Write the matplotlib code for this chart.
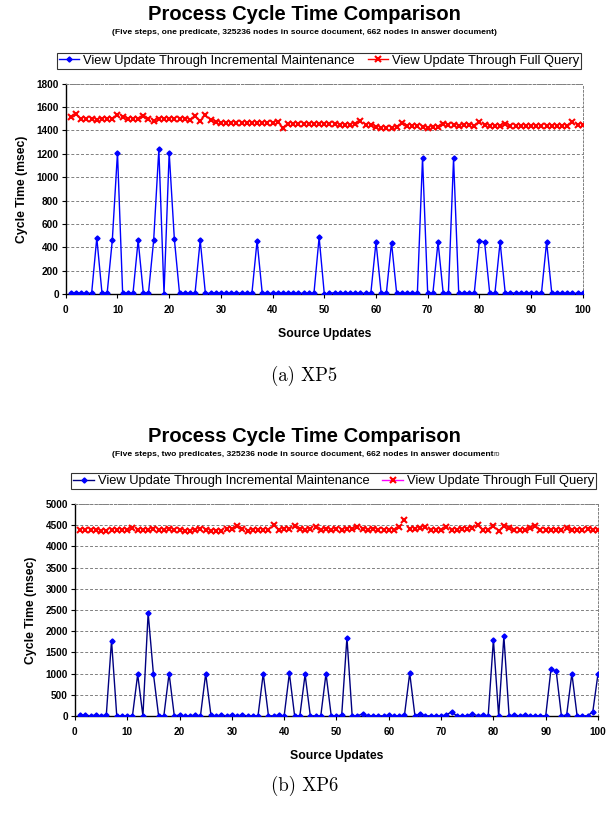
import matplotlib
matplotlib.use('Agg')
import matplotlib.pyplot as plt
from matplotlib.lines import Line2D
import numpy as np

plt.rcParams['font.family'] = ['Liberation Sans', 'DejaVu Sans']

updates = list(range(1, 101))

# XP5 (top)
xp5_incremental = [
    10, 12, 5, 5, 5, 480, 10, 5, 460, 1210,
    5, 5, 5, 460, 5, 10, 460, 1240, 0, 1210,
    470, 5, 5, 5, 5, 460, 5, 5, 10, 5,
    5, 5, 10, 5, 5, 5, 455, 5, 5, 5,
    5, 5, 5, 5, 5, 5, 5, 5, 485, 0,
    5, 10, 5, 5, 5, 5, 5, 5, 5, 445,
    5, 5, 440, 5, 5, 5, 5, 5, 1165, 5,
    5, 445, 5, 5, 1160, 5, 5, 10, 5, 455,
    445, 5, 5, 445, 5, 10, 5, 5, 5, 5,
    5, 5, 445, 5, 5, 5, 5, 5, 5, 5,
]
xp5_full = [
    1514, 1543, 1500, 1500, 1495, 1490, 1500, 1500, 1495, 1534,
    1514, 1495, 1495, 1495, 1523, 1495, 1477, 1500, 1500, 1500,
    1500, 1495, 1495, 1490, 1520, 1480, 1530, 1486, 1472, 1463,
    1463, 1463, 1465, 1463, 1463, 1460, 1460, 1460, 1463, 1465,
    1472, 1423, 1451, 1455, 1455, 1451, 1455, 1451, 1451, 1457,
    1455, 1451, 1445, 1445, 1445, 1451, 1477, 1443, 1443, 1433,
    1425, 1423, 1425, 1430, 1463, 1437, 1437, 1437, 1430, 1423,
    1430, 1430, 1457, 1443, 1443, 1440, 1443, 1443, 1440, 1472,
    1443, 1440, 1440, 1440, 1451, 1437, 1437, 1440, 1437, 1437,
    1440, 1437, 1440, 1437, 1437, 1440, 1437, 1472, 1443, 1443,
]

# XP6 (bottom)
xp6_incremental = [
    20, 20, 0, 20, 0, 20, 1780, 0, 0, 0,
    0, 980, 0, 2430, 1000, 0, 0, 1000, 0, 20,
    0, 0, 20, 0, 1000, 20, 0, 20, 0, 20,
    0, 20, 0, 0, 0, 1000, 0, 0, 20, 0,
    1010, 0, 0, 980, 0, 0, 0, 1000, 0, 0,
    20, 1850, 0, 0, 50, 0, 0, 0, 0, 20,
    0, 0, 20, 1010, 0, 50, 0, 0, 0, 0,
    20, 100, 0, 0, 0, 50, 0, 20, 0, 1800,
    0, 1880, 0, 20, 0, 20, 0, 0, 0, 0,
    1100, 1060, 0, 20, 1000, 0, 0, 0, 100, 1000,
]
xp6_full = [
    4380, 4380, 4390, 4380, 4360, 4360, 4390, 4380, 4380, 4390,
    4440, 4390, 4400, 4380, 4420, 4390, 4400, 4410, 4400, 4390,
    4370, 4360, 4400, 4410, 4390, 4370, 4370, 4360, 4410, 4420,
    4490, 4420, 4370, 4400, 4380, 4380, 4400, 4510, 4380, 4410,
    4420, 4480, 4420, 4400, 4420, 4450, 4400, 4410, 4390, 4420,
    4390, 4410, 4410, 4460, 4410, 4380, 4410, 4380, 4400, 4380,
    4390, 4460, 4620, 4420, 4420, 4440, 4470, 4400, 4380, 4390,
    4460, 4400, 4380, 4420, 4410, 4440, 4500, 4400, 4380, 4480,
    4370, 4480, 4440, 4390, 4390, 4390, 4430, 4490, 4400, 4400,
    4380, 4380, 4380, 4430, 4390, 4400, 4380, 4410, 4400, 4390,
]

label_inc = 'View Update Through Incremental Maintenance'
label_full = 'View Update Through Full Query'

fig = plt.figure(figsize=(6.09, 8.21), dpi=100)
fig.patch.set_facecolor('white')


def style_axes(ax, ymax, ystep):
    ax.set_xlim(0, 100)
    ax.set_ylim(0, ymax)
    ax.set_xticks(range(0, 101, 10))
    ax.set_yticks(np.arange(0, ymax + 1, ystep))
    ax.yaxis.grid(True, linestyle=(0, (3, 2)), color='#808080', linewidth=0.7)
    ax.set_axisbelow(True)
    for side in ['top', 'right']:
        ax.spines[side].set_linestyle((0, (2, 2)))
        ax.spines[side].set_color('#808080')
        ax.spines[side].set_linewidth(0.7)
    for side in ['left', 'bottom']:
        ax.spines[side].set_color('black')
        ax.spines[side].set_linewidth(1.0)
    ax.tick_params(direction='out', length=3, width=0.8, labelsize=7.2, pad=2)
    ax.tick_params(axis='x', pad=5)
    for lab in ax.get_xticklabels() + ax.get_yticklabels():
        lab.set_fontweight('bold')
    ax.set_xlabel('Source Updates', fontsize=8.8, fontweight='bold', labelpad=9)
    ax.set_ylabel('Cycle Time (msec)', fontsize=8.8, fontweight='bold', labelpad=6)


# ---- top panel (XP5)
ax1 = fig.add_axes([0.108, 0.642, 0.849, 0.256])
ax1.plot(updates, xp5_incremental, color='#0000FF', linewidth=1.0,
         marker='D', markersize=2.6, markerfacecolor='#0000FF',
         markeredgecolor='#0000FF', zorder=3)
ax1.plot(updates, xp5_full, linestyle='none', marker='x', markersize=3.8,
         markeredgewidth=1.5, color='#FF0000', zorder=3)
style_axes(ax1, 1800, 200)

fig.text(0.5, 0.982, 'Process Cycle Time Comparison', ha='center', va='center',
         fontsize=14.5, fontweight='bold')
fig.text(0.5, 0.961, '(Five steps, one predicate, 325236 nodes in source document, '
         '662 nodes in answer document)', ha='center', va='center',
         fontsize=6.1, fontweight='bold')

h1 = [Line2D([], [], color='#0000FF', marker='D', markersize=2.6, linewidth=1.0),
      Line2D([], [], color='#FF0000', marker='x', markersize=3.8,
             markeredgewidth=1.5, linewidth=1.0)]
leg1 = fig.legend(h1, [label_inc, label_full], loc='center',
                  bbox_to_anchor=(0.524, 0.926), ncol=2, fontsize=9.3,
                  frameon=True, fancybox=False, handlelength=1.6,
                  handletextpad=0.3, columnspacing=1.0, borderpad=0.15)
leg1.get_frame().set_edgecolor('black')
leg1.get_frame().set_linewidth(0.8)

fig.text(0.5, 0.542, '(a) XP5', ha='center', va='center', fontsize=13.5,
         family='cmr10')

# ---- bottom panel (XP6)
ax2 = fig.add_axes([0.123, 0.128, 0.859, 0.258])
ax2.plot(updates, xp6_incremental, color='#000080', linewidth=1.0,
         marker='D', markersize=2.6, markerfacecolor='#0000FF',
         markeredgecolor='#0000FF', zorder=3)
ax2.plot(updates, xp6_full, linestyle='none', marker='x', markersize=3.8,
         markeredgewidth=1.5, color='#FF0000', zorder=3)
style_axes(ax2, 5000, 500)

fig.text(0.5, 0.468, 'Process Cycle Time Comparison', ha='center', va='center',
         fontsize=14.5, fontweight='bold')
sub2 = fig.text(0.497, 0.447, '(Five steps, two predicates, 325236 node in source document, '
                '662 nodes in answer document', ha='center', va='center',
                fontsize=6.1, fontweight='bold')
ax2.annotate('ro', xy=(1.0, 0.5), xycoords=sub2, ha='left', va='center',
             fontsize=5.2, color='#333333', annotation_clip=False)

h2 = [Line2D([], [], color='#000080', marker='D', markersize=2.6,
             markerfacecolor='#0000FF', markeredgecolor='#0000FF', linewidth=1.0),
      Line2D([], [], color='#FF00FF', marker='x', markersize=3.8,
             markeredgewidth=1.5, markeredgecolor='#FF0000', linewidth=1.0)]
leg2 = fig.legend(h2, [label_inc, label_full], loc='center',
                  bbox_to_anchor=(0.548, 0.414), ncol=2, fontsize=9.3,
                  frameon=True, fancybox=False, handlelength=1.6,
                  handletextpad=0.3, columnspacing=1.0, borderpad=0.15)
leg2.get_frame().set_edgecolor('black')
leg2.get_frame().set_linewidth(0.8)

fig.text(0.5, 0.043, '(b) XP6', ha='center', va='center', fontsize=13.5,
         family='cmr10')

fig.savefig('out.png', dpi=100, facecolor='white')
